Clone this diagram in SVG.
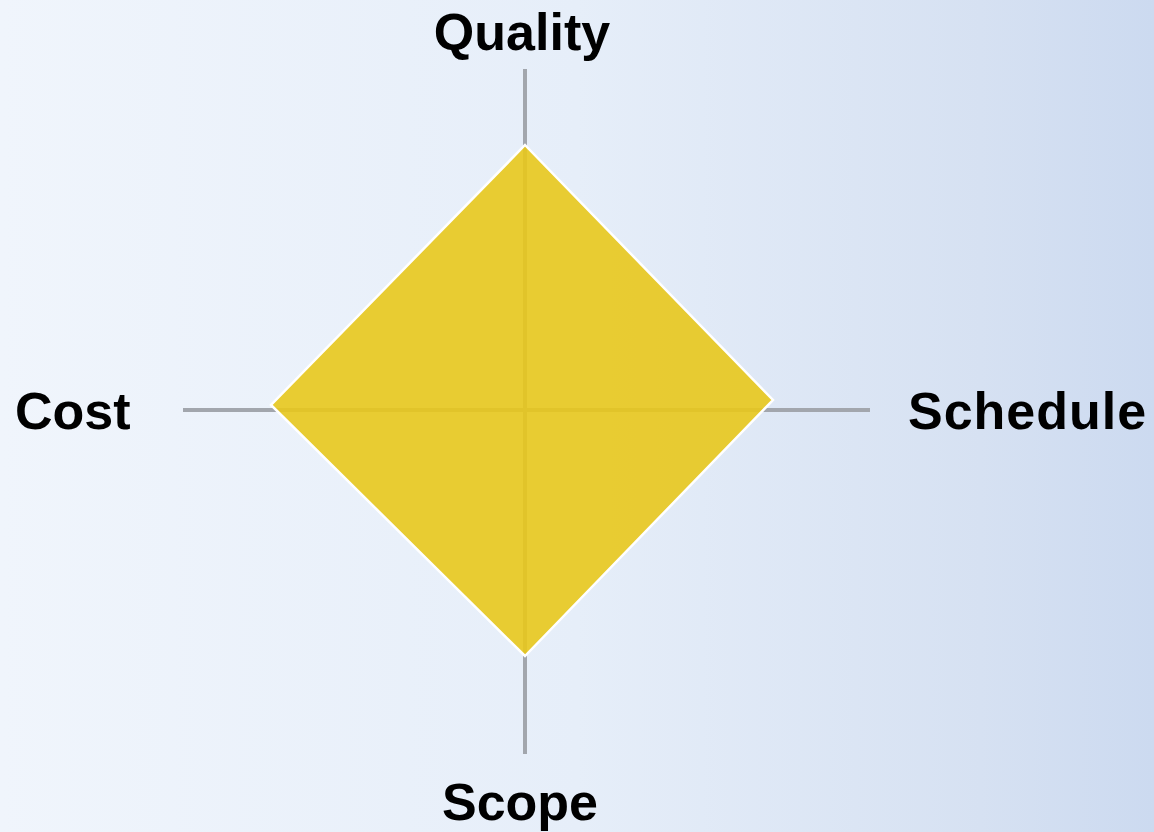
<svg xmlns="http://www.w3.org/2000/svg" width="1154" height="832" viewBox="0 0 1154 832">
<defs>
<linearGradient id="bg" x1="0" y1="0" x2="1" y2="0">
<stop offset="0" stop-color="#f0f5fc"/>
<stop offset="0.5" stop-color="#e6eef9"/>
<stop offset="0.85" stop-color="#d6e1f2"/>
<stop offset="1" stop-color="#ccdaf0"/>
</linearGradient>
<style>
.axis{stroke:#a2a6ad;stroke-width:4;fill:none}
.lbl{font-family:"Liberation Sans",Arial,sans-serif;font-weight:bold;font-size:52px;fill:#000}
</style>
</defs>
<rect width="1154" height="832" fill="url(#bg)"/>
<g id="connectors">
<line class="axis" x1="525" y1="69" x2="525" y2="754"/>
<line class="axis" x1="183" y1="410" x2="870" y2="410"/>
</g>
<g id="diamond">
<polygon points="525,145 773,400 525,656 271,405" fill="#e8c81c" fill-opacity="0.9" stroke="#ffffff" stroke-width="2.5"/>
</g>
<g id="quality"><text class="lbl" x="522" y="50" text-anchor="middle">Quality</text></g>
<g id="cost"><text class="lbl" x="15" y="429">Cost</text></g>
<g id="schedule"><text class="lbl" x="908" y="429" letter-spacing="1">Schedule</text></g>
<g id="scope"><text class="lbl" x="520" y="820" text-anchor="middle">Scope</text></g>
</svg>
